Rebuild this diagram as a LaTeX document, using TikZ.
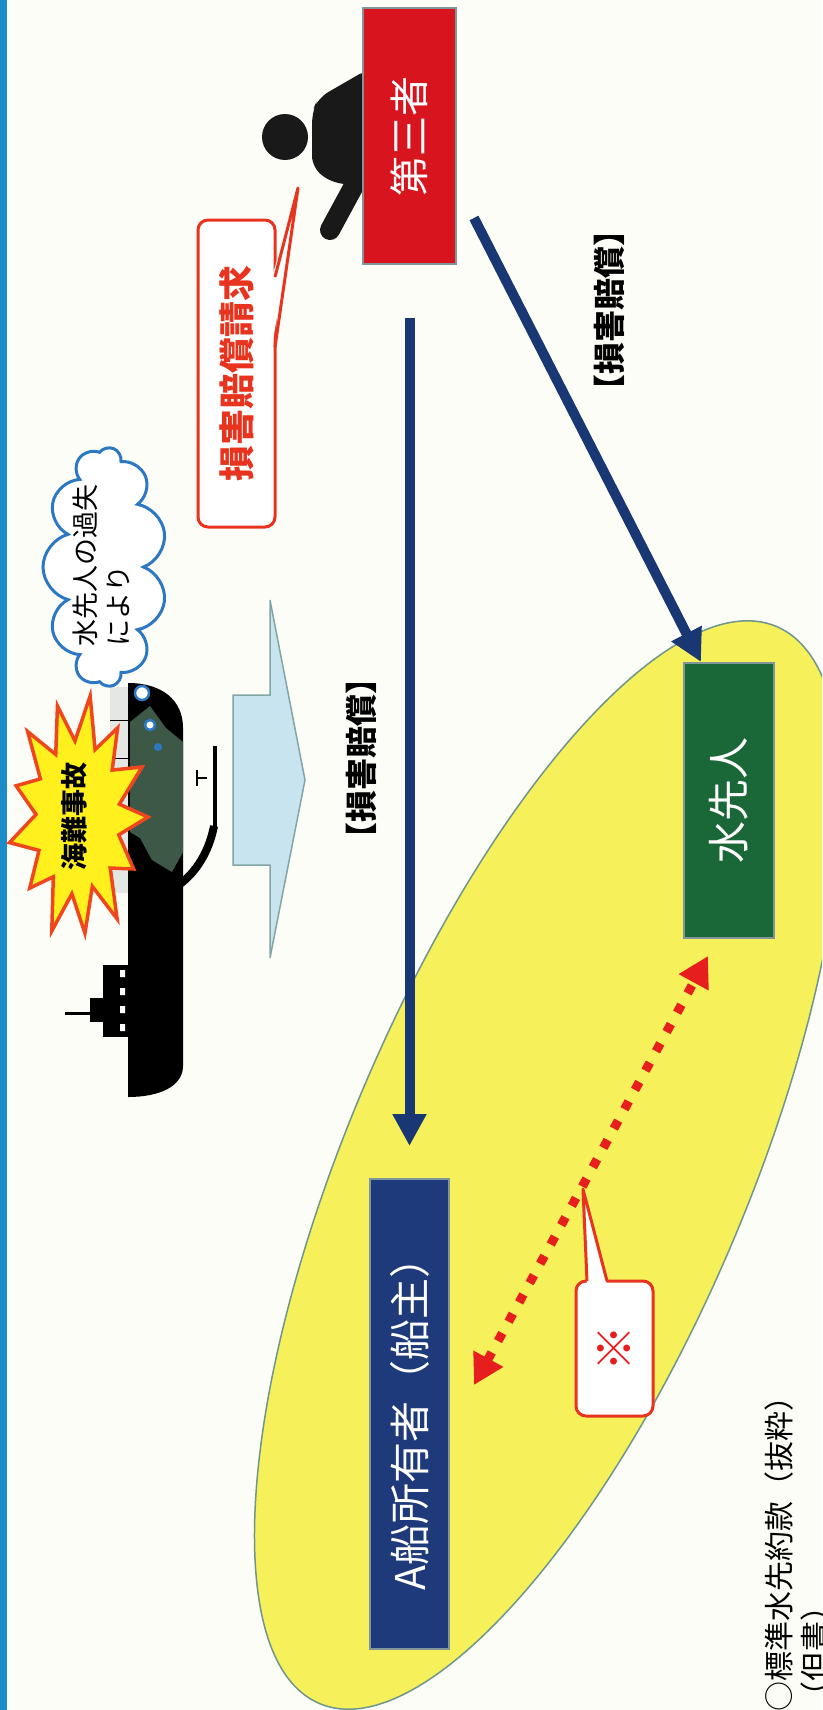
\documentclass[tikz,border=0pt]{standalone}
\usepackage{fontspec}
\setmainfont{Noto Sans CJK JP}
\usetikzlibrary{arrows.meta,shapes.symbols}

\definecolor{paper}{RGB}{253,253,247}
\definecolor{edgeblue}{RGB}{28,140,200}
\definecolor{thirdred}{RGB}{216,20,30}
\definecolor{pilotgreen}{RGB}{26,104,56}
\definecolor{ownernavy}{RGB}{30,58,122}
\definecolor{boxrim}{RGB}{128,150,155}
\definecolor{paynavy}{RGB}{24,55,115}
\definecolor{claimred}{RGB}{232,52,30}
\definecolor{dutyred}{RGB}{230,30,30}
\definecolor{zoneyellow}{RGB}{246,240,90}
\definecolor{zonerim}{RGB}{110,150,140}
\definecolor{cloudblue}{RGB}{45,120,195}
\definecolor{burstyellow}{RGB}{255,240,30}
\definecolor{burstred}{RGB}{240,70,30}
\definecolor{flowblue}{RGB}{200,228,238}
\definecolor{flowrim}{RGB}{130,165,165}
\definecolor{hullgreen}{RGB}{62,88,72}
\definecolor{deckgrey}{RGB}{228,231,228}

\begin{document}
\begin{tikzpicture}[x=1pt, y=-1pt,
    box/.style={draw=boxrim, line width=2pt, rotate=90, text=white, inner sep=0pt},
    payarrow/.style={draw=paynavy, line width=10pt, -{Triangle[width=32pt,length=32pt]}},
    paylabel/.style={rotate=90, font=\bfseries\fontsize{32}{36}\selectfont},
    bubble/.style={draw=claimred, line width=3pt, fill=white, rounded corners=10pt, rotate=90, inner sep=0pt}]

    % Page and frame
    \fill[paper] (0,0) rectangle (822,1710);
    \clip (0,0) rectangle (822,1710);
    \fill[edgeblue] (0,0) rectangle (7,1710);

    % Pilotage contract zone
    \coordinate (zone) at (548,1165);
    \filldraw[fill=zoneyellow, draw=zonerim, line width=1.5pt, rotate around={67:(zone)}]
        (zone) ellipse [x radius=585, y radius=200];

    % Seated person behind the desk
    \fill[black!90] (285,137) circle [radius=23];
    \fill[black!90, rounded corners=12pt] (370,68) -- (318,98) -- (312,112) -- (312,168)
        -- (334,184) -- (370,184) -- cycle;
    \draw[black!90, line width=20pt, line cap=round] (356,182) -- (330,230);

    % Node definitions
    \node (third) at (409.5,136) [box, fill=thirdred, minimum width=255pt, minimum height=93pt,
        font=\fontsize{40}{44}\selectfont] {第三者};
    \node (pilot) at (729,800.5) [box, fill=pilotgreen, minimum width=275pt, minimum height=90pt,
        font=\fontsize{42}{46}\selectfont] {水先人};
    \node (owner) at (409.5,1414) [box, fill=ownernavy, minimum width=470pt, minimum height=79pt,
        font=\fontsize{41}{45}\selectfont] {A船所有者（船主）};

    % Compensation arrows
    \coordinate (payA) at (409.5,318);
    \coordinate (payB) at (474,218);
    \draw[payarrow, shorten >=32pt] (payA) -- (owner.east);
    \draw[payarrow] (payB) -- ([xshift=18pt]pilot.north east);
    \node (paylabelB) at (609,310) [paylabel] {【損害賠償】};
    \node (paylabelA) at (361.5,758) [paylabel] {【損害賠償】};

    % Duty between owner and pilot
    \coordinate (dutyA) at (474,1385);
    \coordinate (dutyB) at (708,956);
    \draw[dutyred, line width=9pt, dash pattern=on 9pt off 13pt,
        {Triangle[width=32pt,length=30pt]}-{Triangle[width=32pt,length=30pt]}] (dutyA) -- (dutyB);
    \node (note) at (614.5,1348.5) [bubble, minimum width=135pt, minimum height=77pt,
        text=dutyred, font=\fontsize{46}{48}\selectfont] {※};
    \coordinate (notetip) at (583,1189);
    \fill[white] (587,1285) -- (notetip) -- (607,1285) -- cycle;
    \draw[claimred, line width=3pt, line join=round] (587,1281) -- (notetip) -- (607,1281);

    % Claim from the third party
    \node (claim) at (236.5,373.5) [bubble, minimum width=307pt, minimum height=77pt,
        text=claimred, font=\bfseries\fontsize{36}{40}\selectfont] {損害賠償請求};
    \coordinate (claimtip) at (298,188);
    \fill[white] (272,277) -- (claimtip) -- (272,347) -- cycle;
    \draw[claimred, line width=3pt, line join=round] (275,277) -- (claimtip) -- (275,347);

    % Flow arrow
    \filldraw[fill=flowblue, draw=flowrim, line width=1.5pt] (233,695) -- (270,695) -- (270,600)
        -- (305,780) -- (270,958) -- (270,865) -- (233,865) -- cycle;

    % Ship
    \fill[deckgrey] (110,687) rectangle (128,893);
    \draw[black, line width=1pt] (110,758) -- (128,758) (110,853) -- (128,853) (110,720) -- (128,720);
    \fill[black] (128,683) .. controls (162,683) and (183,700) .. (183,728)
        -- (183,1066) .. controls (183,1086) and (160,1097) .. (128,1097) -- cycle;
    \fill[hullgreen] (130,722) -- (150,706) -- (166,728) -- (183,742) -- (183,852)
        -- (172,872) -- (152,860) -- (140,838) -- (130,832) -- cycle;
    \fill[black] (103,965) rectangle (128,1037);
    \fill[black] (90,998) rectangle (103,1022);
    \draw[black, line width=3pt] (65,1013) -- (90,1013);
    \fill[white] \foreach \y in {970,988,1006,1024} { (120,\y) rectangle (125,\y+7) };
    \draw[black, line width=8pt] (180,884) .. controls (196,872) and (209,852) .. (214,826);
    \draw[black, line width=4pt] (215,746) -- (215,830);
    \draw[black, line width=2pt] (197,770) -- (197,786) (197,778) -- (207,778);

    % Accident burst
    \filldraw[fill=burstyellow, draw=burstred, line width=3.5pt, shift={(78,817)}] (0:70)
        \foreach \a/\f in {14/0.6,28/0.9,42/0.62,56/1,70/0.6,84/0.95,98/0.63,112/1,126/0.6,
            140/0.9,154/0.62,168/1,182/0.6,196/0.92,210/0.62,224/1,238/0.6,252/0.95,266/0.62,
            280/1,294/0.6,308/0.92,322/0.62,336/1,350/0.6} { -- (\a:{70*\f} and {123*\f}) } -- cycle;
    \node (wreck) at (74,816) [rotate=90, font=\bfseries\fontsize{27}{30}\selectfont] {海難事故};

    % Thought cloud
    \node (cloud) at (105,567) [cloud, cloud puffs=11, cloud ignores aspect, draw=cloudblue,
        line width=3pt, fill=white, rotate=90, minimum width=239pt, minimum height=124pt] {};
    \node (fault) at (101.5,565) [rotate=90, align=left, inner sep=0pt,
        font=\fontsize{27}{33}\selectfont] {水先人の過失\\により};
    \filldraw[fill=white, draw=cloudblue, line width=2.5pt] (142,693) circle [radius=7];
    \filldraw[fill=white, draw=cloudblue, line width=2.5pt] (150,725) circle [radius=5];
    \fill[cloudblue] (158,747) circle [radius=4];

    % Clause heading
    \node (clause) at (765,1712) [rotate=90, anchor=north west, align=left, inner sep=0pt,
        font=\fontsize{30}{36}\selectfont] {○標準水先約款（抜粋）\\（但書）};
\end{tikzpicture}
\end{document}
